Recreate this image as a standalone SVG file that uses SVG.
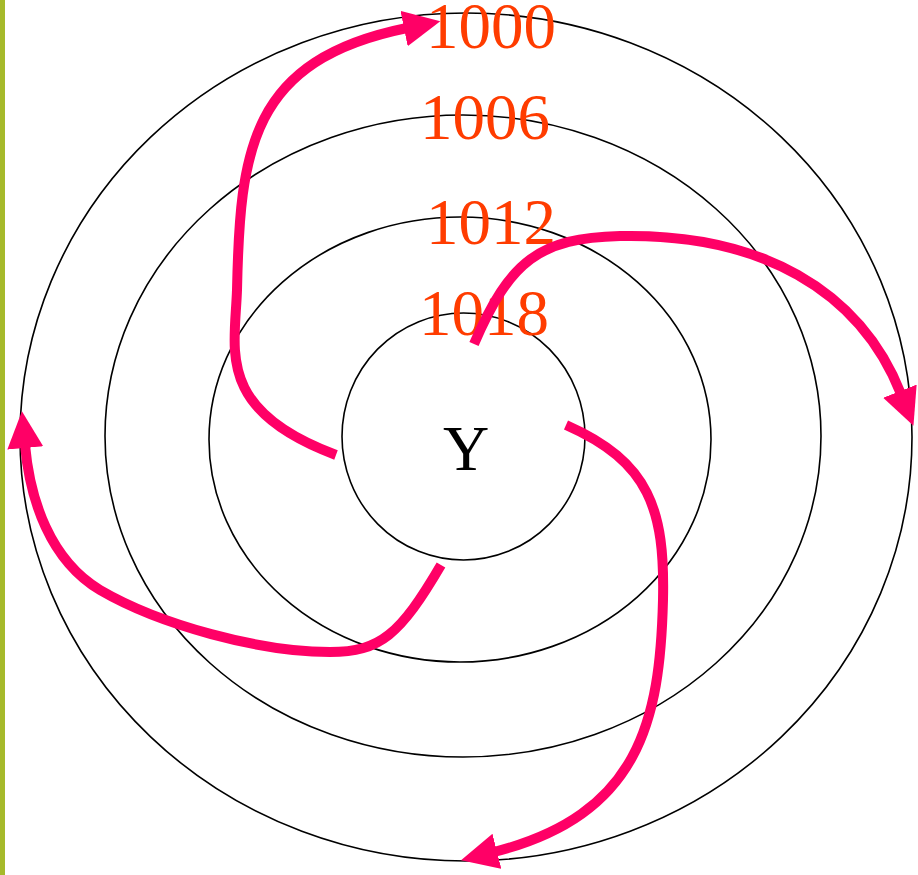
<svg xmlns="http://www.w3.org/2000/svg" width="918" height="875" viewBox="0 0 918 875">
<style>
.ring{fill:none;stroke:#000;stroke-width:1.6}
.lbl{font-family:"Liberation Serif","Times New Roman",serif;font-size:65px;fill:#ff3c00}
.arr{fill:none;stroke:#ff0066;stroke-width:10;marker-end:url(#ah)}
</style>
<defs>
<marker id="ah" markerUnits="userSpaceOnUse" markerWidth="40" markerHeight="40" viewBox="0 0 40 40" refX="3" refY="18" orient="auto">
<path d="M0,0 L37,18 L0,36 z" fill="#ff0066"/>
</marker>
</defs>
<rect x="0" y="0" width="5" height="875" fill="#a6ba2b"/>
<g id="ring1000"><ellipse class="ring" cx="466" cy="437" rx="446" ry="424"/></g>
<g id="ring1006"><ellipse class="ring" cx="463" cy="436" rx="358" ry="321"/></g>
<g id="ring1012"><ellipse class="ring" cx="460" cy="439.5" rx="251" ry="222.5"/></g>
<g id="nodeY"><ellipse class="ring" cx="463.5" cy="436.5" rx="121.5" ry="123.5"/>
<text x="466" y="470" text-anchor="middle" style="font-family:'Liberation Serif','Times New Roman',serif;font-size:64px;fill:#000">Y</text></g>
<g id="labels">
<text class="lbl" x="426" y="48">1000</text>
<text class="lbl" x="420" y="139">1006</text>
<text class="lbl" x="426" y="244">1012</text>
<text class="lbl" x="419" y="335">1018</text>
</g>
<g id="connectors">
<path class="arr" d="M336,455 C215,410 235,350 237,290 C240,150 250,60 407,28"/>
<path class="arr" d="M474,344 C510,260 540,238 620,236 C760,233 860,290 901,394"/>
<path class="arr" d="M566,425 C650,462 665,510 663,600 C660,720 640,815 494,852"/>
<path class="arr" d="M441,565 C400,635 380,652 330,652 C260,652 160,625 100,590 C50,560 30,500 25,445"/>
</g>
</svg>
